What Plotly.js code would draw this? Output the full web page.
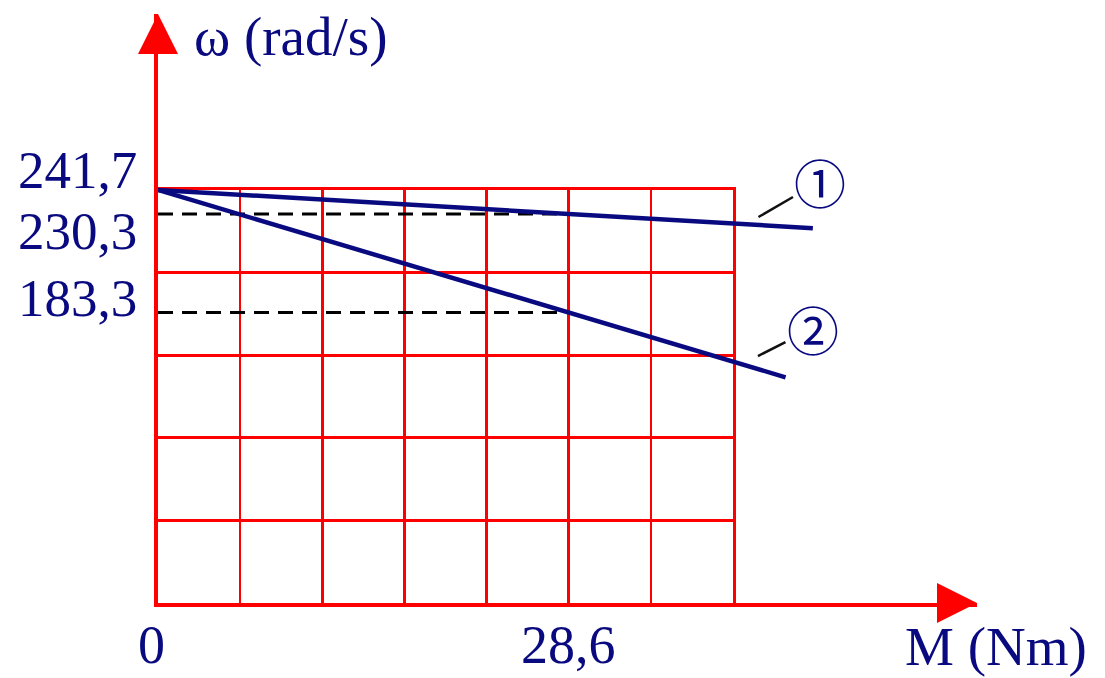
<!DOCTYPE html>
<html>
<head>
<meta charset="utf-8">
<script src="https://cdn.plot.ly/plotly-3.0.1.min.js"></script>
<style>html,body{margin:0;padding:0;background:#fff;}#chart{width:1105px;height:678px;}</style>
</head>
<body>
<div id="chart"></div>
<script>
// ---- data ----
const M_TICK_VALS = [0, 28.6];
const M_TICK_TEXT = ['0', '28,6'];
const OMEGA_TICK_VALS = [241.7, 230.3, 183.3];
const OMEGA_TICK_TEXT = ['241,7', '230,3', '183,3'];
const M_curve1 = [0, 28.6, 45.6];
const omega_curve1 = [241.7, 230.3, 223.5];
const M_curve2 = [0, 28.6, 43.7];
const omega_curve2 = [241.7, 183.3, 152.5];
const CURVE_LABELS = ['\u2460', '\u2461'];
const M_GRID_STEP = 5.72;      // Nm per grid column
const GRID_COLS = 7, GRID_ROWS = 5;
const OMEGA_GRID_BOTTOM = 45;   // axis crossing (diagram not drawn from zero)
const OMEGA_GRID_TOP = 241.7;

// ---- layout geometry ----
const W = 1105, H = 678;
const mar = {l: 158, r: 128, t: 14, b: 75};
const plotW = W - mar.l - mar.r, plotH = H - mar.t - mar.b;
const gridW = 575, gridH = 413;
const gridXmax = M_GRID_STEP * GRID_COLS;
const xMax = gridXmax * plotW / gridW;
const yMax = OMEGA_GRID_BOTTOM + (OMEGA_GRID_TOP - OMEGA_GRID_BOTTOM) * plotH / gridH;
function paperY(px) { return (mar.t + plotH - px) / plotH; }
function paperX(px) { return (px - mar.l) / plotW; }

const RED = '#ff0000', NAVY = '#0a0a80';
const SERIF = 'Liberation Serif, Times New Roman, serif';

const traces = [
  // dummy trace for the grid subplot
  {x: [null], y: [null], xaxis: 'x', yaxis: 'y', type: 'scatter', mode: 'lines',
   hoverinfo: 'skip', showlegend: false},
];
OMEGA_TICK_VALS.slice(1).forEach(function (v) {
  traces.push({x: [0, M_TICK_VALS[1]], y: [v, v], xaxis: 'x2', yaxis: 'y2',
    type: 'scatter', mode: 'lines', showlegend: false, hoverinfo: 'skip',
    line: {color: '#000', width: 3, dash: '15px,9px'}});
});
traces.push({x: M_curve1, y: omega_curve1, xaxis: 'x2', yaxis: 'y2', type: 'scatter',
  mode: 'lines', name: CURVE_LABELS[0], showlegend: false, line: {color: NAVY, width: 4.5}});
traces.push({x: M_curve2, y: omega_curve2, xaxis: 'x2', yaxis: 'y2', type: 'scatter',
  mode: 'lines', name: CURVE_LABELS[1], showlegend: false, line: {color: NAVY, width: 4.5}});

const annotations = [];
const yLabelShift = [20, -17, 15];
OMEGA_TICK_VALS.forEach(function (v, i) {
  annotations.push({xref: 'paper', yref: 'y2', x: 0, y: v, xshift: -19, yshift: yLabelShift[i],
    xanchor: 'right', yanchor: 'middle', showarrow: false, text: OMEGA_TICK_TEXT[i],
    font: {family: SERIF, size: 53, color: NAVY}});
});
const xLabelShift = [-7, 0];
M_TICK_VALS.forEach(function (v, i) {
  annotations.push({xref: 'x2', yref: 'paper', x: v, y: paperY(645), xshift: xLabelShift[i],
    xanchor: 'center', yanchor: 'middle', showarrow: false, text: M_TICK_TEXT[i],
    font: {family: SERIF, size: 54, color: NAVY}});
});
annotations.push({xref: 'paper', yref: 'paper', x: paperX(192), y: paperY(36),
  xanchor: 'left', yanchor: 'middle', showarrow: false, text: '\u03c9 (rad/s)',
  font: {family: SERIF, size: 55, color: NAVY}});
annotations.push({xref: 'paper', yref: 'paper', x: paperX(903), y: paperY(646),
  xanchor: 'left', yanchor: 'middle', showarrow: false, text: 'M (Nm)',
  font: {family: SERIF, size: 55, color: NAVY}});

// curve labels with leader lines, anchored on each curve
[[M_curve1, omega_curve1, 0.917, 62, -36, 8], [M_curve2, omega_curve2, 0.956, 55, -28, 13]].forEach(function (c, i) {
  const xs = c[0], ys = c[1], t = c[2];
  const n = xs.length - 1;
  const ax = xs[0] + (xs[n] - xs[0]) * t;
  const ay = ys[0] + (ys[n] - ys[0]) * t;
  annotations.push({xref: 'x2', yref: 'y2', x: ax, y: ay, yshift: c[5], text: CURVE_LABELS[i],
    showarrow: true, arrowhead: 0, arrowwidth: 2.5, arrowcolor: '#111', ax: c[3], ay: c[4],
    font: {family: 'Noto Sans CJK JP, DejaVu Sans, sans-serif', size: 52, color: NAVY}});
});

const layout = {
  width: W, height: H, margin: mar,
  paper_bgcolor: '#fff', plot_bgcolor: 'rgba(0,0,0,0)',
  showlegend: false,
  xaxis: {domain: [0, gridW / plotW], range: [0, gridXmax], anchor: 'y',
    tick0: 0, dtick: M_GRID_STEP, showgrid: true, gridcolor: RED, gridwidth: 2.6,
    showticklabels: false, ticks: '', zeroline: false,
    showline: true, mirror: true, linecolor: RED, linewidth: 2.6},
  yaxis: {domain: [0, gridH / plotH], range: [OMEGA_GRID_BOTTOM, OMEGA_GRID_TOP], anchor: 'x',
    tick0: OMEGA_GRID_BOTTOM, dtick: (OMEGA_GRID_TOP - OMEGA_GRID_BOTTOM) / GRID_ROWS,
    showgrid: true, gridcolor: RED, gridwidth: 2.6,
    showticklabels: false, ticks: '', zeroline: false,
    showline: true, mirror: true, linecolor: RED, linewidth: 2.6},
  xaxis2: {domain: [0, 1], range: [0, xMax], anchor: 'y2', showgrid: false, zeroline: false,
    showline: true, linecolor: RED, linewidth: 4, ticks: '', showticklabels: false},
  yaxis2: {domain: [0, 1], range: [OMEGA_GRID_BOTTOM, yMax], anchor: 'x2', showgrid: false, zeroline: false,
    showline: true, linecolor: RED, linewidth: 4, ticks: '', showticklabels: false},
  shapes: [
    {type: 'path', xref: 'paper', yref: 'paper', xsizemode: 'pixel', ysizemode: 'pixel',
     xanchor: 0, yanchor: 1, path: 'M -20 -40 L 20 -40 L 0 0 Z',
     fillcolor: RED, line: {width: 0}},
    {type: 'path', xref: 'paper', yref: 'paper', xsizemode: 'pixel', ysizemode: 'pixel',
     xanchor: 1, yanchor: 0, path: 'M -40 -20 L -40 20 L 0 0 Z',
     fillcolor: RED, line: {width: 0}}
  ],
  annotations: annotations
};

Plotly.newPlot('chart', traces, layout, {displayModeBar: false, staticPlot: true});
</script>
</body>
</html>
